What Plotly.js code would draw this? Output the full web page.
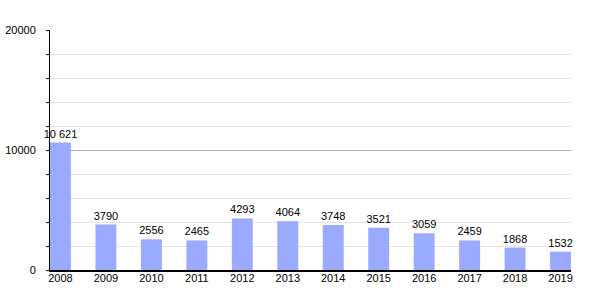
<!DOCTYPE html>
<html><head><meta charset="utf-8">
<script src="https://cdn.plot.ly/plotly-3.0.1.min.js"></script>
<style>html,body{margin:0;padding:0;background:#fff}#c{width:600px;height:300px}</style>
</head><body><div id="c"></div>
<script>
const years = ['2008','2009','2010','2011','2012','2013','2014','2015','2016','2017','2018','2019'];
const values = [10621,3790,2556,2465,4293,4064,3748,3521,3059,2459,1868,1532];
const labels = ['10 621','3790','2556','2465','4293','4064','3748','3521','3059','2459','1868','1532'];
const yTicks = [0,10000,20000];

Plotly.newPlot('c',[{
  type:'bar', x:years, y:values, text:labels, textposition:'outside', constraintext:'none',
  textfont:{family:'Liberation Sans, Arial, sans-serif', size:11, color:'#000'},
  marker:{color:'#99aaff'}, width:0.46, cliponaxis:false, hoverinfo:'none'
}],{
  width:600, height:300,
  margin:{l:50,r:28.5,t:30,b:30},
  paper_bgcolor:'#fff', plot_bgcolor:'#fff',
  font:{family:'Liberation Sans, Arial, sans-serif', size:11, color:'#000'},
  showlegend:false,
  xaxis:{type:'category', range:[-0.23,11.23], showline:true, linecolor:'#000', linewidth:1.5,
    ticks:'', showgrid:false, tickfont:{size:11}, ticklabelstandoff:-3},
  yaxis:{range:[0,20000], tickvals:yTicks, ticktext:yTicks.map(String), showline:true, linecolor:'#000', linewidth:1,
    ticks:'outside', ticklen:3, tickcolor:'#000', gridcolor:'#b0b0b0', gridwidth:1, zeroline:false,
    ticklabelstandoff:8,
    minor:{dtick:2000, showgrid:true, gridcolor:'#e4e4e4', ticks:'outside', ticklen:3, tickcolor:'#000'},
    tickfont:{size:11}}
},{displayModeBar:false, staticPlot:true});
</script></body></html>
